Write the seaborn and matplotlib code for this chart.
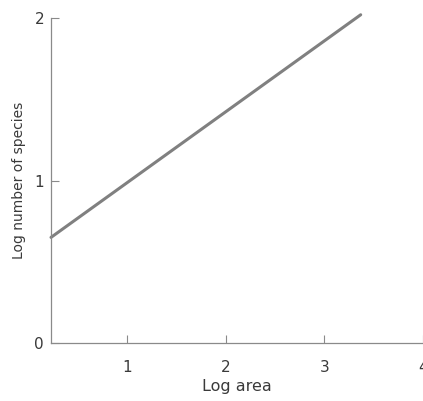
import pandas as pd
import matplotlib
matplotlib.use("Agg")
import matplotlib.pyplot as plt
import seaborn as sns

# Fitted species-area line
log_area = [0.23, 3.37]
log_species = [0.65, 2.02]

x_ticks = [1, 2, 3, 4]
y_ticks = [0, 1, 2]

df = pd.DataFrame({"log_area": log_area, "log_species": log_species})

sns.set_style("white")
plt.rcParams["font.family"] = ["DejaVu Sans"]

fig = plt.figure(figsize=(4.23, 4.01), dpi=100)
ax = fig.add_axes([0.1206, 0.1446, 0.879, 0.8105])

sns.lineplot(data=df, x="log_area", y="log_species", color="#808080",
             linewidth=2.2, ax=ax, clip_on=False)

ax.set_xlim(0.23, 4.0)
ax.set_ylim(0, 2)
ax.set_xticks(x_ticks)
ax.set_yticks(y_ticks)

for side in ["top", "right"]:
    ax.spines[side].set_visible(False)
for side in ["left", "bottom"]:
    ax.spines[side].set_color("#8a8a8a")
    ax.spines[side].set_linewidth(0.9)

ax.tick_params(bottom=True, left=True, direction="in", length=6, width=0.8,
               color="#8a8a8a", labelsize=11, labelcolor="#3a3a3a")
ax.tick_params(axis="x", pad=12)
ax.tick_params(axis="y", pad=5)

ax.set_xlabel("Log area", fontsize=11.5, color="#3a3a3a", labelpad=3)
ax.set_ylabel("Log number of species", fontsize=10, color="#3a3a3a", labelpad=6)

fig.savefig("out.png", dpi=100)
